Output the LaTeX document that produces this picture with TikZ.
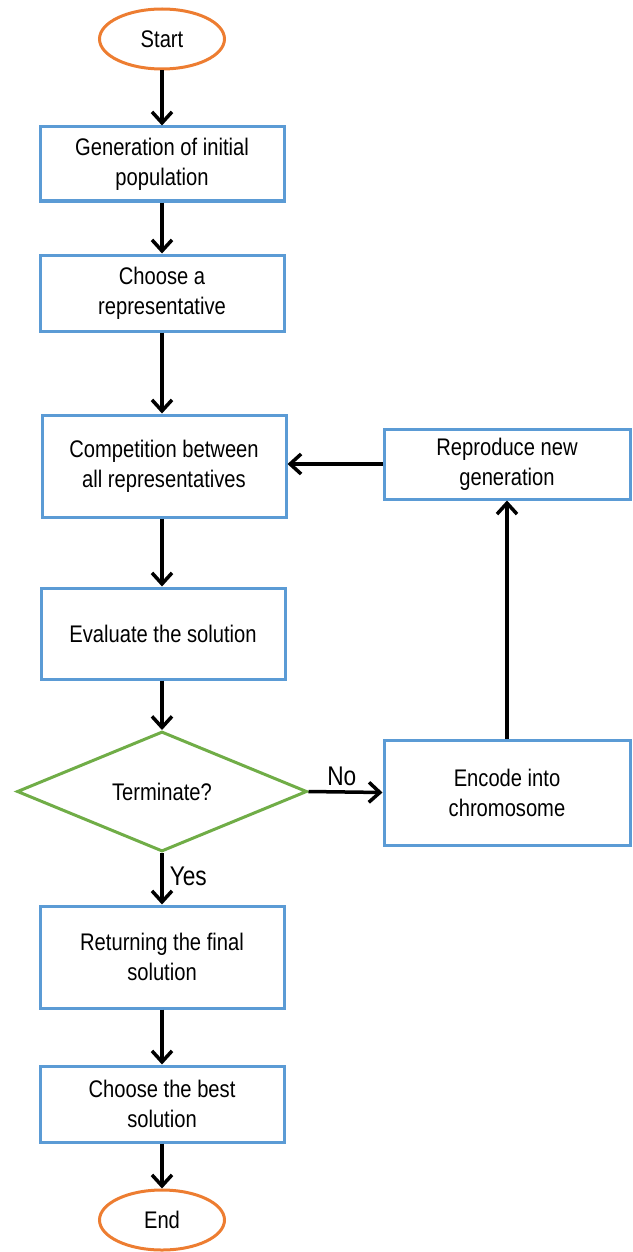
\documentclass[tikz,border=0pt]{standalone}
\usepackage{fontspec}
\setmainfont{Liberation Sans}[FakeStretch=0.84]
\usetikzlibrary{shapes.geometric,arrows.meta}
\definecolor{boxblue}{HTML}{5B9BD5}
\definecolor{ovorange}{HTML}{ED7D31}
\definecolor{dgreen}{HTML}{70AD47}
\begin{document}
\begin{tikzpicture}[x=1pt,y=-1pt,
  every node/.style={font=\fontsize{24}{30}\selectfont, align=center, inner sep=0pt},
  procbox/.style={draw=boxblue, line width=3pt, rectangle, fill=white},
  term/.style={draw=ovorange, line width=3pt, ellipse, minimum width=125pt, minimum height=60pt},
  decide/.style={draw=dgreen, line width=3pt, diamond, aspect=2.4, minimum width=290pt, minimum height=120pt},
  flow/.style={line width=3.5pt, -{Straight Barb[length=11pt,width=20pt,line width=3.5pt]}},
  lbl/.style={font=\fontsize{27}{30}\selectfont}]
\useasboundingbox (0,0) rectangle (632,1252);
\node[term] (start) at (162,39) {Start};
\node[procbox, minimum width=244pt, minimum height=74pt] (gen) at (162,164) {Generation of initial\\population};
\node[procbox, minimum width=244pt, minimum height=76pt] (rep) at (162,293) {Choose a\\representative};
\node[procbox, minimum width=244pt, minimum height=102pt] (comp) at (164,466) {Competition between\\all representatives};
\node[procbox, minimum width=244pt, minimum height=91pt] (eval) at (163,633.5) {Evaluate the solution};
\node[decide] (term) at (162,791.5) {Terminate?};
\node[procbox, minimum width=246pt, minimum height=105pt] (enc) at (507,792.5) {Encode into\\chromosome};
\node[procbox, minimum width=246pt, minimum height=70pt] (repro) at (507,464) {Reproduce new\\generation};
\node[procbox, minimum width=244pt, minimum height=102pt] (ret) at (162,957) {Returning the final\\solution};
\node[procbox, minimum width=244pt, minimum height=76pt] (best) at (162,1104) {Choose the best\\solution};
\node[term] (end) at (162,1220) {End};
\draw[flow] (start) -- (start |- gen.north);
\draw[flow] (gen) -- (gen |- rep.north);
\draw[flow] (rep) -- (rep |- comp.north);
\draw[flow] (rep.south |- comp.south) -- (rep |- eval.north);
\draw[flow] (rep.south |- eval.south) -- (term);
\draw[flow] (term.east) -- node[lbl, above, pos=0.45, yshift=4pt] {No} (enc.west);
\draw[flow] (enc) -- (repro);
\draw[flow] (repro.west) -- (repro.west -| comp.east);
\draw[flow] (term) -- node[lbl, right, pos=0.45, xshift=6pt] {Yes} (ret);
\draw[flow] (ret) -- (best);
\draw[flow] (best) -- (end);
\end{tikzpicture}
\end{document}
